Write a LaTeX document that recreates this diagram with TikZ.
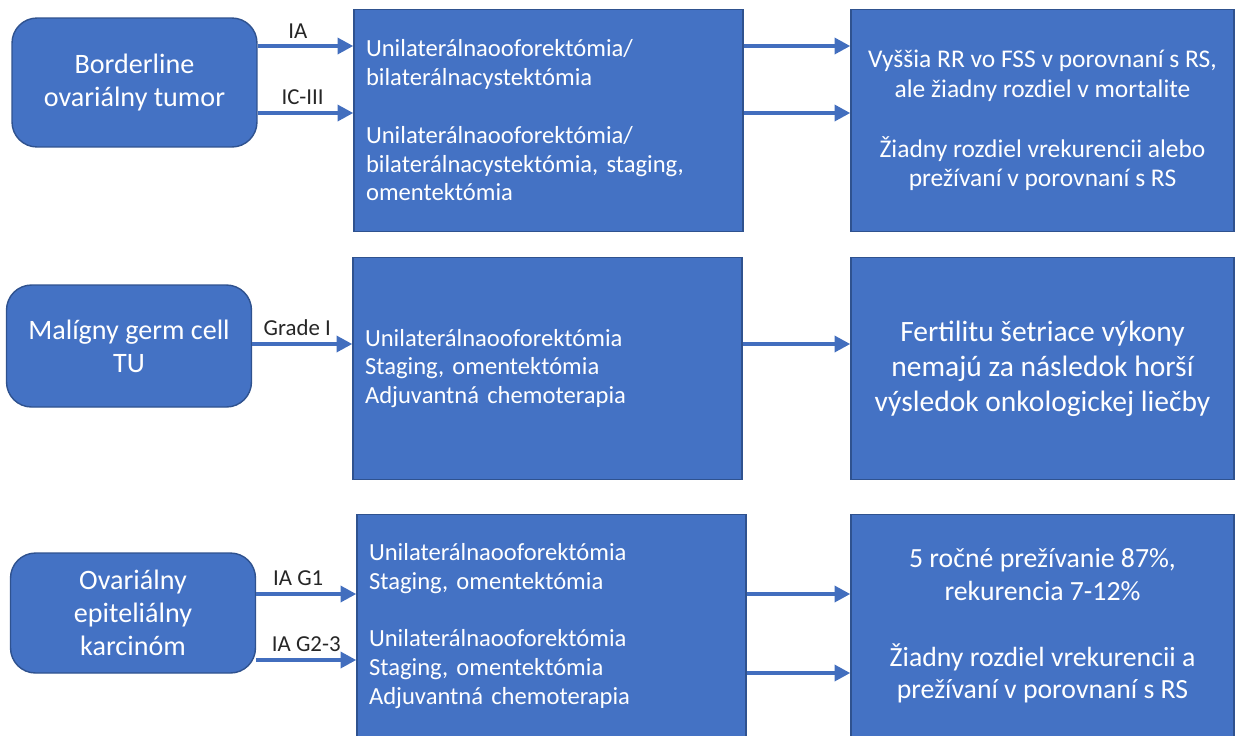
\documentclass[tikz,border=0pt]{standalone}
\usepackage{fontspec}
\setmainfont{Carlito}
\usepackage{tikz}
\usetikzlibrary{arrows.meta,shapes,positioning}
\usepackage{xcolor}
\definecolor{boxblue}{RGB}{68,114,196}
\definecolor{edgeblue}{RGB}{47,82,143}
\definecolor{arrowblue}{RGB}{66,110,190}
\definecolor{lbltext}{RGB}{38,38,38}
\tikzstyle{arrow} = [line width=2.4pt,-{Triangle[length=9pt,width=9pt]},color=arrowblue]
\tikzstyle{diagnosis} = [rectangle, rounded corners=0.5cm, minimum width=4.9cm, text centered, align=center, draw=edgeblue, fill=boxblue, line width=0.8pt, text=white, font=\fontsize{16}{18.6}\selectfont]
\tikzstyle{surgery} = [rectangle, text width=7.3cm, inner xsep=0.24cm, minimum height=4.45cm, align=left, draw=edgeblue, fill=boxblue, line width=0.8pt, text=white, font=\fontsize{14}{16.4}\selectfont]
\tikzstyle{outcome} = [rectangle, minimum width=7.66cm, minimum height=4.45cm, align=center, draw=edgeblue, fill=boxblue, line width=0.8pt, text=white]
\tikzstyle{stage} = [above, text=lbltext, font=\fontsize{13}{15}\selectfont]

\begin{document}
\begin{tikzpicture}[x=0.02cm, y=-0.02cm]
\useasboundingbox (0,0) rectangle (1236,735);
% Nodes
\node (borderline) [diagnosis, minimum height=2.58cm] at (134.5,82.5) {Borderline\\ovariálny tumor};
\node (germcell) [diagnosis, minimum height=2.44cm] at (129,346) {Malígny germ cell\\TU};
\node (epithel) [diagnosis, minimum height=2.4cm] at (133,613) {Ovariálny\\epiteliálny\\karcinóm};

\node (surgbl) [surgery] at (548.5,120.5) {Unilaterálnaooforektómia/\\bilaterálnacystektómia\\[16.4pt]Unilaterálnaooforektómia/\\bilaterálnacystektómia, staging,\\omentektómia};
\node (surggc) [surgery] at (547.5,368.5) {Unilaterálnaooforektómia\\Staging, omentektómia\\Adjuvantná chemoterapia};
\node (surgep) [surgery] at (551.5,626) {Unilaterálnaooforektómia\\Staging, omentektómia\\[16.4pt]Unilaterálnaooforektómia\\Staging, omentektómia\\Adjuvantná chemoterapia};

\node (resbl) [outcome, font=\fontsize{14.5}{17}\selectfont] at (1042.5,120.5) {Vyššia RR vo FSS v porovnaní s RS,\\ale žiadny rozdiel v mortalite\\[17pt]Žiadny rozdiel vrekurencii alebo\\prežívaní v porovnaní s RS};
\node (resgc) [outcome, font=\fontsize{16.8}{19.8}\selectfont] at (1042.5,368.5) {Fertilitu šetriace výkony\\nemajú za následok horší\\výsledok onkologickej liečby};
\node (resep) [outcome, font=\fontsize{15.8}{18.6}\selectfont] at (1042.5,626) {5 ročné prežívanie 87\%,\\rekurencia 7-12\%\\[18.6pt]Žiadny rozdiel vrekurencii a\\prežívaní v porovnaní s RS};

% Arrow levels
\coordinate (blA) at (0,46);
\coordinate (blB) at (0,113);
\coordinate (gcA) at (0,344);
\coordinate (epA) at (0,594);
\coordinate (epB) at (0,660);
\coordinate (epC) at (0,673);

% Arrows
\draw[arrow] (borderline.east |- blA) -- node[stage, pos=0.42] {IA} (surgbl.west |- blA);
\draw[arrow] (borderline.east |- blB) -- node[stage, pos=0.47] {IC-III} (surgbl.west |- blB);
\draw[arrow] (surgbl.east |- blA) -- (resbl.west |- blA);
\draw[arrow] (surgbl.east |- blB) -- (resbl.west |- blB);

\draw[arrow] (germcell.east |- gcA) -- node[stage, pos=0.45] {Grade I} (surggc.west |- gcA);
\draw[arrow] (surggc.east |- gcA) -- (resgc.west |- gcA);

\draw[arrow] (epithel.east |- epA) -- node[stage, pos=0.42] {IA G1} (surgep.west |- epA);
\draw[arrow] (epithel.east |- epB) -- node[stage, pos=0.5] {IA G2-3} (surgep.west |- epB);
\draw[arrow] (surgep.east |- epA) -- (resep.west |- epA);
\draw[arrow] (surgep.east |- epC) -- (resep.west |- epC);
\end{tikzpicture}
\end{document}
